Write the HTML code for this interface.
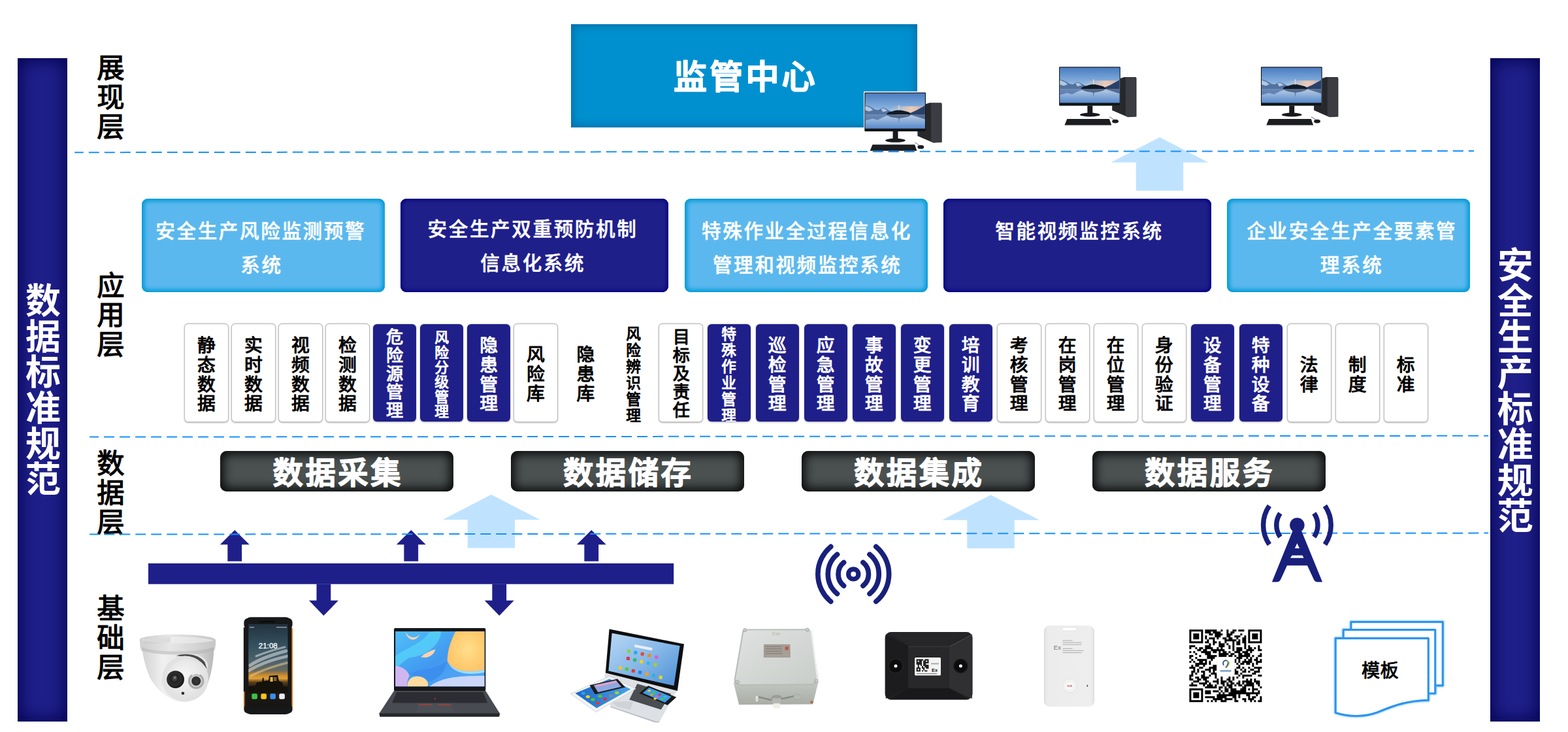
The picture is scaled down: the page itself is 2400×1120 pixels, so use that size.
<!DOCTYPE html><html lang="zh"><head><meta charset="utf-8"><title>安全生产信息化平台架构</title><style>
html,body{margin:0;padding:0;background:#fff}
body{width:2400px;height:1120px;position:relative;overflow:hidden;font-family:"Liberation Sans",sans-serif}
div{position:absolute;box-sizing:border-box}
.bar{background:#1f1f8a;box-shadow:inset 0 0 28px 2px #00004c}
.top{background:#0090cf;box-shadow:inset 0 0 14px 2px #006ba3}
.bl{background:#5bb8ee;border-radius:9px;box-shadow:inset 0 0 6px 4px #009ad6}
.bd{background:#1f1f8a;border-radius:9px;box-shadow:inset 0 0 5px 3px #050580}
.sw{background:#fff;border:1px solid #bcbcbc;border-radius:6px;box-shadow:0 .6px 2.2px rgba(0,0,0,.3);box-sizing:content-box}
.sd{background:#1f1f8a;border-radius:6px;box-shadow:0 .5px 2.5px rgba(0,0,0,.35)}
.db{background:#4b5151;border-radius:10px;box-shadow:inset 0 0 16px 5px #080808}
.t{color:transparent;text-align:center;overflow:hidden}
svg{position:absolute;left:0;top:0}
svg .cj{font-family:"Liberation Sans","Noto Sans CJK SC",sans-serif}
</style></head><body>
<div class="bar" style="left:27px;top:89px;width:76px;height:1015px;"></div>
<div class="bar" style="left:2281px;top:89px;width:76px;height:1015px;"></div>
<div class="top" style="left:874px;top:37px;width:530px;height:157.5px;"></div>
<div class="bl" style="left:217px;top:303.75px;width:372px;height:143.25px;"></div>
<div class="bd" style="left:613px;top:303.75px;width:410px;height:143.25px;"></div>
<div class="bl" style="left:1048px;top:303.75px;width:372px;height:143.25px;"></div>
<div class="bd" style="left:1444px;top:303.75px;width:410px;height:143.25px;"></div>
<div class="bl" style="left:1878px;top:303.75px;width:372px;height:143.25px;"></div>
<div class="sw" style="left:281.75px;top:495px;width:66.25px;height:148.75px;"></div>
<div class="sw" style="left:353.75px;top:495px;width:66.25px;height:148.75px;"></div>
<div class="sw" style="left:425.75px;top:495px;width:66.25px;height:148.75px;"></div>
<div class="sw" style="left:497.75px;top:495px;width:66.25px;height:148.75px;"></div>
<div class="sd" style="left:571.25px;top:496px;width:65.5px;height:149px;"></div>
<div class="sd" style="left:643.25px;top:496px;width:65.5px;height:149px;"></div>
<div class="sd" style="left:715.25px;top:496px;width:65.5px;height:149px;"></div>
<div class="sw" style="left:785.75px;top:495px;width:66.25px;height:148.75px;"></div>
<div class="sw" style="left:1007.75px;top:495px;width:66.25px;height:148.75px;"></div>
<div class="sd" style="left:1083.25px;top:496px;width:65.5px;height:149px;"></div>
<div class="sd" style="left:1157.25px;top:496px;width:65.5px;height:149px;"></div>
<div class="sd" style="left:1231.25px;top:496px;width:65.5px;height:149px;"></div>
<div class="sd" style="left:1305.25px;top:496px;width:65.5px;height:149px;"></div>
<div class="sd" style="left:1379.25px;top:496px;width:65.5px;height:149px;"></div>
<div class="sd" style="left:1453.25px;top:496px;width:65.5px;height:149px;"></div>
<div class="sw" style="left:1526px;top:495px;width:66.25px;height:148.75px;"></div>
<div class="sw" style="left:1600px;top:495px;width:66.25px;height:148.75px;"></div>
<div class="sw" style="left:1674px;top:495px;width:66.25px;height:148.75px;"></div>
<div class="sw" style="left:1748px;top:495px;width:66.25px;height:148.75px;"></div>
<div class="sd" style="left:1823.25px;top:496px;width:65.5px;height:149px;"></div>
<div class="sd" style="left:1897.25px;top:496px;width:65.5px;height:149px;"></div>
<div class="sw" style="left:1970px;top:495px;width:66.25px;height:148.75px;"></div>
<div class="sw" style="left:2044px;top:495px;width:66.25px;height:148.75px;"></div>
<div class="sw" style="left:2118px;top:495px;width:66.25px;height:148.75px;"></div>
<div class="db" style="left:336.75px;top:690px;width:357px;height:62px;"></div>
<div class="db" style="left:781.9px;top:690px;width:357px;height:62px;"></div>
<div class="db" style="left:1227px;top:690px;width:357px;height:62px;"></div>
<div class="db" style="left:1672px;top:690px;width:357px;height:62px;"></div>
<svg width="2400" height="1120" viewBox="0 0 2400 1120"><defs>
<linearGradient id="sky" x1="0" y1="0" x2="0" y2="1"><stop offset="0" stop-color="#4a7cc0"/><stop offset=".4" stop-color="#83aedd"/><stop offset=".61" stop-color="#c3d8ee"/><stop offset=".63" stop-color="#b4c9e2"/><stop offset="1" stop-color="#5689cc"/></linearGradient>
<linearGradient id="glow" x1="0" y1="0" x2="1" y2="0"><stop offset="0" stop-color="#f6cdb2" stop-opacity="0"/><stop offset=".6" stop-color="#f6cdb2" stop-opacity=".9"/><stop offset="1" stop-color="#f0b89a" stop-opacity=".6"/></linearGradient>
<g id="pc">
<path d="M93.6 17.6 L99.5 15.7 H116.6 Q118.4 15.7 118.4 17.6 V76.2 L105.5 77 L81.1 66.4 V59 H93.6Z" fill="#26282c"/>
<path d="M101.7 16.5 H117.4 V76 L105.5 76.6 L101.7 75Z" fill="#3b3d42"/>
<rect x="0" y="0" width="93.7" height="59.5" rx="1" fill="#121416"/>
<rect x="1.1" y="1.1" width="91.5" height="54" fill="url(#sky)"/>
<rect x="40" y="21" width="52.6" height="13" fill="url(#glow)"/>
<path d="M1.1 19.5 L6 20.5 L11 23 L16 26 L21 27 L26 24 L30 23.5 L35 26 L41 29.5 L48 32 L48 34 H1.1Z" fill="#52739f"/>
<path d="M3 21 L9 23.5 L13 27 L7 29 L1.1 27 V21Z M25 25 L30 24.5 L35 28 L28 30Z" fill="#c4d6ea" opacity=".85"/>
<path d="M92.6 20 L86 23.5 L79 27.5 L71 31 L66 33 L66 34 H92.6Z" fill="#27416b"/>
<path d="M33.5 33.6 Q35 29.5 42 29 L47 27.5 L51 26.8 L54 26.8 L60 28 L66 29.5 Q70.5 31 71 33.6Z" fill="#111b28"/><rect x="51.9" y="19.2" width="1.3" height="8" fill="#d5dde6"/>
<path d="M33.5 33.8 Q38 38 47 38.5 L52 39.5 L52.5 47 L53.3 39.5 L62 38 Q69.5 36.5 71 33.8Z" fill="#2b4468" opacity=".7"/>
<path d="M1.1 34 H40 L30 37 L20 42 L12 40 L1.1 43Z" fill="#47699f" opacity=".7"/>
<path d="M92.6 34 H70 L80 37 L92.6 41Z" fill="#2c466e" opacity=".7"/>
<rect x="43.3" y="59.4" width="7.9" height="13" fill="#17191c"/>
<ellipse cx="47.2" cy="73.2" rx="15.4" ry="3" fill="#17191c"/>
<path d="M12.2 79.6 H76.8 L80.2 89.2 H8.3Z" fill="#1b1d20"/>
<ellipse cx="86" cy="83.3" rx="5" ry="2.9" fill="#1b1d20"/>
<path d="M84 81 Q80 78 77 76.5" stroke="#222" stroke-width=".7" fill="none"/>
</g>
<linearGradient id="camb" x1="0" y1="0" x2="1" y2="0"><stop offset="0" stop-color="#d2d2d2"/><stop offset=".3" stop-color="#f0f0f0"/><stop offset=".7" stop-color="#e2e2e2"/><stop offset="1" stop-color="#b8b8b8"/></linearGradient>
<linearGradient id="camr" x1="0" y1="0" x2="1" y2="0"><stop offset="0" stop-color="#cfcfcf"/><stop offset=".4" stop-color="#e6e6e6"/><stop offset="1" stop-color="#c6c6c6"/></linearGradient>
<radialGradient id="camf" cx=".45" cy=".4" r=".7"><stop offset="0" stop-color="#f7f7f7"/><stop offset="1" stop-color="#dcdcdc"/></radialGradient>
<radialGradient id="lens1" cx=".45" cy=".45" r=".6"><stop offset="0" stop-color="#555"/><stop offset=".35" stop-color="#222"/><stop offset=".6" stop-color="#2e2e2e"/><stop offset="1" stop-color="#111"/></radialGradient>
<radialGradient id="lens2" cx=".5" cy=".5" r=".5"><stop offset="0" stop-color="#3a3a3a"/><stop offset=".5" stop-color="#2a2a2a"/><stop offset=".62" stop-color="#d8d8d8"/><stop offset=".85" stop-color="#a0a0a0"/><stop offset="1" stop-color="#cfcfcf"/></radialGradient>

<linearGradient id="phs" x1="0" y1="0" x2="0" y2="1"><stop offset="0" stop-color="#22323e"/><stop offset=".25" stop-color="#34505f"/><stop offset=".45" stop-color="#4d626c"/><stop offset=".56" stop-color="#6a6a5c"/><stop offset=".615" stop-color="#c98a2c"/><stop offset=".655" stop-color="#e2a238"/><stop offset=".70" stop-color="#5a401c"/><stop offset=".76" stop-color="#221c12"/><stop offset="1" stop-color="#151514"/></linearGradient>
<clipPath id="phc"><rect x="380.3" y="955" width="60.2" height="126.8"/></clipPath>

<linearGradient id="lpb" x1="0" y1="0" x2="1" y2="1"><stop offset="0" stop-color="#2fb4f6"/><stop offset=".5" stop-color="#1e86ee"/><stop offset="1" stop-color="#3a9df5"/></linearGradient>
<radialGradient id="lpo" cx=".55" cy=".45" r=".7"><stop offset="0" stop-color="#ffd978"/><stop offset=".7" stop-color="#ffbe4e"/><stop offset="1" stop-color="#f9b26a"/></radialGradient>
<clipPath id="lpc"><rect x="605.1" y="966.1" width="136.6" height="84.4"/></clipPath>

<linearGradient id="cgs" x1="0" y1="0" x2="1" y2="1"><stop offset="0" stop-color="#b9d8f4"/><stop offset=".5" stop-color="#86b8e8"/><stop offset="1" stop-color="#4d8fd6"/></linearGradient>
<linearGradient id="cgt" x1="0" y1="0" x2="1" y2="0"><stop offset="0" stop-color="#1d66c4"/><stop offset="1" stop-color="#49a3ea"/></linearGradient>

<linearGradient id="jbt" x1="0" y1="0" x2="1" y2="1"><stop offset="0" stop-color="#dfe2e0"/><stop offset="1" stop-color="#c9cdca"/></linearGradient>
<linearGradient id="jbf" x1="0" y1="0" x2="0" y2="1"><stop offset="0" stop-color="#c3c7c2"/><stop offset="1" stop-color="#a9ada6"/></linearGradient>

<radialGradient id="hol" cx=".5" cy=".5" r=".5"><stop offset="0" stop-color="#0a0a0a"/><stop offset=".8" stop-color="#0d0d0e"/><stop offset="1" stop-color="#2a2a2c"/></radialGradient>

<linearGradient id="cdg" x1="0" y1="0" x2="1" y2="0"><stop offset="0" stop-color="#dadada"/><stop offset=".08" stop-color="#ececec"/><stop offset=".92" stop-color="#efefef"/><stop offset="1" stop-color="#dcdcdc"/></linearGradient>
<clipPath id="cl1"><rect x="1083" y="496" width="66" height="149"/></clipPath></defs>
<g class="cj" fill="#fff" font-size="54" font-weight="bold"><text x="38.9 38.9 38.9 38.9 38.9 38.9" y="479.87 534.57 589.27 643.97 698.67 753.37">数据标准规范</text></g>
<g class="cj" fill="#fff" font-size="55" font-weight="bold"><text x="2291.8 2291.8 2291.8 2291.8 2291.8 2291.8 2291.8 2291.8" y="425.15 480.05 534.95 589.85 644.75 699.65 754.55 809.45">安全生产标准规范</text></g>
<g class="cj" fill="#000" stroke="#000" stroke-width="1.25" stroke-linejoin="round" font-size="42.4"><text x="148.2 148.2 148.2" y="118.91 164.01 209.11">展现层</text></g>
<g class="cj" fill="#000" stroke="#000" stroke-width="1.25" stroke-linejoin="round" font-size="42.4"><text x="148.2 148.2 148.2" y="452.01 497.11 542.21">应用层</text></g>
<g class="cj" fill="#000" stroke="#000" stroke-width="1.25" stroke-linejoin="round" font-size="42.4"><text x="148.2 148.2 148.2" y="724.01 769.11 814.21">数据层</text></g>
<g class="cj" fill="#000" stroke="#000" stroke-width="1.25" stroke-linejoin="round" font-size="42.4"><text x="148.2 148.2 148.2" y="946.21 991.31 1036.41">基础层</text></g>
<g class="cj" fill="#fff" stroke="#fff" stroke-width="2" stroke-linejoin="round" font-size="51.5" font-weight="500"><text x="1030.75" y="135.87" letter-spacing="3.7">监管中心</text></g>
<g class="cj" fill="#fff" stroke="#fff" stroke-width="0.5" stroke-linejoin="round" font-size="29.6" font-weight="500" letter-spacing="2.6"><text x="238.25" y="364.25">安全生产风险监测预警</text></g>
<g class="cj" fill="#fff" stroke="#fff" stroke-width="0.5" stroke-linejoin="round" font-size="29.6" font-weight="500" letter-spacing="2.6"><text x="368.25" y="416.25">系统</text></g>
<g class="cj" fill="#fff" stroke="#fff" stroke-width="0.5" stroke-linejoin="round" font-size="29.6" font-weight="500" letter-spacing="2.6"><text x="654.5" y="361.25">安全生产双重预防机制</text></g>
<g class="cj" fill="#fff" stroke="#fff" stroke-width="0.5" stroke-linejoin="round" font-size="29.6" font-weight="500" letter-spacing="2.6"><text x="735.25" y="413.25">信息化系统</text></g>
<g class="cj" fill="#fff" stroke="#fff" stroke-width="0.5" stroke-linejoin="round" font-size="29.6" font-weight="500" letter-spacing="2.6"><text x="1074" y="364.25">特殊作业全过程信息化</text></g>
<g class="cj" fill="#fff" stroke="#fff" stroke-width="0.5" stroke-linejoin="round" font-size="29.6" font-weight="500" letter-spacing="2.6"><text x="1090.75" y="416.25">管理和视频监控系统</text></g>
<g class="cj" fill="#fff" stroke="#fff" stroke-width="0.5" stroke-linejoin="round" font-size="29.6" font-weight="500" letter-spacing="2.6"><text x="1523.25" y="364.25">智能视频监控系统</text></g>
<g class="cj" fill="#fff" stroke="#fff" stroke-width="0.5" stroke-linejoin="round" font-size="29.6" font-weight="500" letter-spacing="2.6"><text x="1908.25" y="364.25">企业安全生产全要素管</text></g>
<g class="cj" fill="#fff" stroke="#fff" stroke-width="0.5" stroke-linejoin="round" font-size="29.6" font-weight="500" letter-spacing="2.6"><text x="2020.75" y="416.25">理系统</text></g>
<g class="cj" fill="#000" stroke="#000" stroke-width="1.1" stroke-linejoin="round" font-size="27.8"><text x="302 302 302 302" y="537.96 567.76 597.56 627.36">静态数据</text></g>
<g class="cj" fill="#000" stroke="#000" stroke-width="1.1" stroke-linejoin="round" font-size="27.8"><text x="374 374 374 374" y="537.96 567.76 597.56 627.36">实时数据</text></g>
<g class="cj" fill="#000" stroke="#000" stroke-width="1.1" stroke-linejoin="round" font-size="27.8"><text x="446 446 446 446" y="537.96 567.76 597.56 627.36">视频数据</text></g>
<g class="cj" fill="#000" stroke="#000" stroke-width="1.1" stroke-linejoin="round" font-size="27.8"><text x="518 518 518 518" y="537.96 567.76 597.56 627.36">检测数据</text></g>
<g class="cj" fill="#fff" stroke="#fff" stroke-width="1.1" stroke-linejoin="round" font-size="26.2"><text x="591.05 591.05 591.05 591.05 591.05" y="525.46 553.46 581.46 609.46 637.46">危险源管理</text></g>
<g class="cj" fill="#fff" stroke="#fff" stroke-width="1.1" stroke-linejoin="round" font-size="21.7"><text x="665.3 665.3 665.3 665.3 665.3 665.3" y="524.45 547.05 569.65 592.25 614.85 637.45">风险分级管理</text></g>
<g class="cj" fill="#fff" stroke="#fff" stroke-width="1.1" stroke-linejoin="round" font-size="27.8"><text x="734.25 734.25 734.25 734.25" y="537.96 567.76 597.56 627.36">隐患管理</text></g>
<g class="cj" fill="#000" stroke="#000" stroke-width="1.1" stroke-linejoin="round" font-size="27.8"><text x="806 806 806" y="552.46 582.26 612.06">风险库</text></g>
<g class="cj" fill="#000" stroke="#000" stroke-width="1.1" stroke-linejoin="round" font-size="27.8"><text x="882.5 882.5 882.5" y="552.46 582.26 612.06">隐患库</text></g>
<g class="cj" fill="#000" stroke="#000" stroke-width="1.1" stroke-linejoin="round" font-size="22.6"><text x="958.2 958.2 958.2 958.2 958.2 958.2" y="519.24 544.14 569.04 593.94 618.84 643.74">风险辨识管理</text></g>
<g class="cj" fill="#000" stroke="#000" stroke-width="1.1" stroke-linejoin="round" font-size="26.2"><text x="1029.8 1029.8 1029.8 1029.8 1029.8" y="525.46 553.46 581.46 609.46 637.46">目标及责任</text></g>
<g class="cj" fill="#fff" stroke="#fff" stroke-width="1.1" stroke-linejoin="round" font-size="22.6" clip-path="url(#cl1)"><text x="1104.35 1104.35 1104.35 1104.35 1104.35 1104.35" y="519.24 544.14 569.04 593.94 618.84 643.74">特殊作业管理</text></g>
<g class="cj" fill="#fff" stroke="#fff" stroke-width="1.1" stroke-linejoin="round" font-size="27.8"><text x="1175.75 1175.75 1175.75 1175.75" y="537.96 567.76 597.56 627.36">巡检管理</text></g>
<g class="cj" fill="#fff" stroke="#fff" stroke-width="1.1" stroke-linejoin="round" font-size="27.8"><text x="1249.75 1249.75 1249.75 1249.75" y="537.96 567.76 597.56 627.36">应急管理</text></g>
<g class="cj" fill="#fff" stroke="#fff" stroke-width="1.1" stroke-linejoin="round" font-size="27.8"><text x="1323.75 1323.75 1323.75 1323.75" y="537.96 567.76 597.56 627.36">事故管理</text></g>
<g class="cj" fill="#fff" stroke="#fff" stroke-width="1.1" stroke-linejoin="round" font-size="27.8"><text x="1397.75 1397.75 1397.75 1397.75" y="537.96 567.76 597.56 627.36">变更管理</text></g>
<g class="cj" fill="#fff" stroke="#fff" stroke-width="1.1" stroke-linejoin="round" font-size="27.8"><text x="1471.75 1471.75 1471.75 1471.75" y="537.96 567.76 597.56 627.36">培训教育</text></g>
<g class="cj" fill="#000" stroke="#000" stroke-width="1.1" stroke-linejoin="round" font-size="27.8"><text x="1545.75 1545.75 1545.75 1545.75" y="537.96 567.76 597.56 627.36">考核管理</text></g>
<g class="cj" fill="#000" stroke="#000" stroke-width="1.1" stroke-linejoin="round" font-size="27.8"><text x="1619.75 1619.75 1619.75 1619.75" y="537.96 567.76 597.56 627.36">在岗管理</text></g>
<g class="cj" fill="#000" stroke="#000" stroke-width="1.1" stroke-linejoin="round" font-size="27.8"><text x="1693.75 1693.75 1693.75 1693.75" y="537.96 567.76 597.56 627.36">在位管理</text></g>
<g class="cj" fill="#000" stroke="#000" stroke-width="1.1" stroke-linejoin="round" font-size="27.8"><text x="1767.75 1767.75 1767.75 1767.75" y="537.96 567.76 597.56 627.36">身份验证</text></g>
<g class="cj" fill="#fff" stroke="#fff" stroke-width="1.1" stroke-linejoin="round" font-size="27.8"><text x="1841.75 1841.75 1841.75 1841.75" y="537.96 567.76 597.56 627.36">设备管理</text></g>
<g class="cj" fill="#fff" stroke="#fff" stroke-width="1.1" stroke-linejoin="round" font-size="27.8"><text x="1915.75 1915.75 1915.75 1915.75" y="537.96 567.76 597.56 627.36">特种设备</text></g>
<g class="cj" fill="#000" stroke="#000" stroke-width="1.1" stroke-linejoin="round" font-size="27.8"><text x="1989.75 1989.75" y="567.76 597.56">法律</text></g>
<g class="cj" fill="#000" stroke="#000" stroke-width="1.1" stroke-linejoin="round" font-size="27.8"><text x="2063.75 2063.75" y="567.76 597.56">制度</text></g>
<g class="cj" fill="#000" stroke="#000" stroke-width="1.1" stroke-linejoin="round" font-size="27.8"><text x="2137.75 2137.75" y="567.76 597.56">标准</text></g>
<g class="cj" fill="#fff" stroke="#fff" stroke-width="2" stroke-linejoin="round" font-size="46.4" font-weight="500" letter-spacing="3.5"><text x="417.5" y="739.63">数据采集</text></g>
<g class="cj" fill="#fff" stroke="#fff" stroke-width="2" stroke-linejoin="round" font-size="46.4" font-weight="500" letter-spacing="3.5"><text x="861.9" y="739.63">数据储存</text></g>
<g class="cj" fill="#fff" stroke="#fff" stroke-width="2" stroke-linejoin="round" font-size="46.4" font-weight="500" letter-spacing="3.5"><text x="1306.9" y="739.63">数据集成</text></g>
<g class="cj" fill="#fff" stroke="#fff" stroke-width="2" stroke-linejoin="round" font-size="46.4" font-weight="500" letter-spacing="3.5"><text x="1751.9" y="739.63">数据服务</text></g>
<path fill="#bfe3ff" d="M1775 210 l74.5 38.5 h-38.3 v43.2 h-72.4 v-43.2 h-38.3 z"/>
<path fill="#bfe3ff" d="M751.9 756.75 l74.5 38.5 h-38.3 v43.2 h-72.4 v-43.2 h-38.3 z"/>
<path fill="#bfe3ff" d="M1516.5 757.3 l74.5 38.5 h-38.3 v43.2 h-72.4 v-43.2 h-38.3 z"/>
<rect x="227" y="862" width="804.2" height="31.7" fill="#1f1f8a"/>
<path fill="#1f1f8a" d="M359.25 811 l22.5 22.25 h-11.6 v25.5 h-21.8 v-25.5 h-11.6 z"/>
<path fill="#1f1f8a" d="M629.25 811 l22.5 22.25 h-11.6 v25.5 h-21.8 v-25.5 h-11.6 z"/>
<path fill="#1f1f8a" d="M905.25 811 l22.5 22.25 h-11.6 v25.5 h-21.8 v-25.5 h-11.6 z"/>
<path fill="#1f1f8a" d="M495.4 942 l-22.5 -23.25 h11.6 v-25.2 h21.8 v25.2 h11.6 z"/>
<path fill="#1f1f8a" d="M764.25 942 l-22.5 -23.25 h11.6 v-25.2 h21.8 v25.2 h11.6 z"/>
<g stroke="#1590ff" stroke-width="2" stroke-dasharray="16 8" fill="none"><path d="M114.2 233.2 L2256 231" stroke-dashoffset="2.4"/><path d="M137.2 668.6 L2278 666.8" stroke-dashoffset="2.1"/><path d="M137.2 817.6 L2278 815.6" stroke-dashoffset="1.9"/></g>
<path d="M1321.01 860.5 A23.2 23.2 0 0 1 1321.01 896.3M1291.49 896.3 A23.2 23.2 0 0 1 1291.49 860.5M1331.06 848.31 A39 39 0 0 1 1331.06 908.49M1281.44 908.49 A39 39 0 0 1 1281.44 848.31M1340.85 836.42 A54.4 54.4 0 0 1 1340.85 920.38M1271.65 920.38 A54.4 54.4 0 0 1 1271.65 836.42" fill="none" stroke="#18207c" stroke-width="7.7" stroke-linecap="round"/>
<circle cx="1306.25" cy="878.4" r="7.6" fill="none" stroke="#18207c" stroke-width="7.2"/>
<path d="M2011.35 785.47 A31.6 31.6 0 0 1 2011.35 821.53M1959.45 821.53 A31.6 31.6 0 0 1 1959.45 785.47M2027.94 773.94 A51.8 51.8 0 0 1 2027.94 833.06M1942.86 833.06 A51.8 51.8 0 0 1 1942.86 773.94" fill="none" stroke="#18207c" stroke-width="7.5"/>
<circle cx="1985.4" cy="803.5" r="11.25" fill="#18207c"/>
<path fill="#18207c" fill-rule="evenodd" d="M1985.3 795.8 L1946.9 890.6 H1954 Q1958.6 890.6 1960.5 886 L1970 865.25 H2001 L2010.6 886 Q2012.5 890.6 2017 890.6 H2024.1 Z M1985.4 831.25 L1981.9 839 H1989 Z M1977.5 849.75 H1993.5 L1995.6 853.75 H1975 Z"/>
<rect x="1322.1" y="139.9" width="96" height="62" fill="#fff"/>
<use href="#pc" x="1323.3" y="141.6"/>
<use href="#pc" x="1621.1" y="102.3"/>
<use href="#pc" x="1930" y="102.3"/>
<g><path d="M216.5 988 C220 1012 226 1032 233 1043 C243 1058 258 1070 276 1073.5 C292 1076 310 1066 318 1046 C324 1030 327 1010 327.5 990 Z" fill="url(#camb)"/><path d="M213.9 978.5 C214 974.5 240 970.7 272 970.7 C304 970.7 330 974.5 330.2 979.5 L329.8 989 C318 994.5 296 996.6 272 996.6 C246 996.6 226 994 214.6 989.5 Z" fill="url(#camr)"/><path d="M216 979 C230 976 250 974.6 272 974.6 C296 974.6 316 976.5 328.5 980 C316 983 296 984.4 272 984.4 C248 984.4 228 982.6 216 979Z" fill="#f3f3f3" opacity=".55"/><path d="M214.6 989.5 C226 994 246 996.6 272 996.6 C296 996.6 318 994.5 329.8 989 L329 994.5 C316 1000 296 1001.8 272 1001.8 C248 1001.8 228 999.5 215.6 995 Z" fill="#b4b4b4" opacity=".55"/><path d="M222 976.5 v8.6M223.9 976.42 v8.6M225.8 976.34 v8.6M227.7 976.26 v8.6M229.6 976.18 v8.6M231.5 976.1 v8.6M233.4 976.02 v8.6M235.3 975.94 v8.6M237.2 975.86 v8.6M239.1 975.78 v8.6M241 975.7 v8.6M242.9 975.62 v8.6M244.8 975.54 v8.6M246.7 975.46 v8.6M248.6 975.38 v8.6M250.5 975.3 v8.6M252.4 975.22 v8.6M254.3 975.14 v8.6M256.2 975.06 v8.6M258.1 974.98 v8.6M260 974.9 v8.6" stroke="#c9c9c9" stroke-width=".8"/><path d="M247 1052 C246 1025 262 1003 287 1000.5 C303 999 315 1006 318.5 1017 L316 1030 C306 1010 292 1006 280 1008 C262 1011 251 1030 247 1052Z" fill="#e4e4e4"/><path d="M270 1003.5 C285 998.5 305 1001 313.6 1013.6 L317 1024 C308 1010 293 1004.5 270 1003.5Z" fill="#4a4a4a"/><ellipse cx="283.5" cy="1038.5" rx="35.5" ry="35" fill="#e2e2e2"/><ellipse cx="285.5" cy="1040.5" rx="31" ry="31.5" fill="url(#camf)"/><circle cx="268.6" cy="1039.6" r="13.4" fill="url(#lens1)"/><circle cx="267.8" cy="1036.5" r="2.2" fill="#9aa" opacity=".5"/><circle cx="300.2" cy="1042" r="12.6" fill="url(#lens2)"/><path d="M294 1033 a10 10 0 0 1 12 -1" stroke="#fff" stroke-width="2" fill="none" opacity=".8"/><circle cx="279.9" cy="1060.8" r="2.3" fill="#2a2a2a"/></g>
<g><rect x="372.9" y="960" width="75.2" height="124" rx="3" fill="#e58420"/><rect x="372.9" y="960" width="3.2" height="98" fill="#191919"/><rect x="374.6" y="944.3" width="71.8" height="148.6" rx="9" fill="#17181a"/><rect x="373.4" y="946" width="74.2" height="16" rx="6" fill="#17181a"/><rect x="373.4" y="1078" width="74.2" height="13.5" rx="6" fill="#17181a"/><rect x="380.3" y="955" width="60.2" height="126.8" fill="url(#phs)"/><g clip-path="url(#phc)"><g stroke="#dfe4e6" stroke-linecap="round" fill="none" opacity=".55"><path d="M383 1018 Q400 1006 438 996" stroke-width="5"/><path d="M381 1026 Q404 1012 440 1004" stroke-width="4.5"/><path d="M392 1004 Q412 996 436 990" stroke-width="3"/><path d="M384 1034 Q408 1022 440 1014" stroke-width="3.5" stroke="#e8c890"/></g><path d="M380.3 1050 L391 1049 L393 1044 L401 1043 L402 1037 L403.5 1037 L404 1042 L411 1041 L412 1034 L425 1033 L427 1042 L432 1044 L434 1050 L440.5 1051 V1060 H380.3Z" fill="#15120c"/><path d="M413.5 1036 h4.2 v7 h-4.2z" fill="#e9b440"/><path d="M419 1036 h4.5 v6 h-4.5z" fill="#7a6030"/></g><text x="410.3" y="991.9" font-family="Liberation Sans, sans-serif" font-size="11.6" fill="#fff" text-anchor="middle" stroke="#fff" stroke-width=".3">21:08</text><rect x="382" y="959" width="7" height="1.6" fill="#aab" opacity=".8"/><rect x="423" y="959" width="16" height="1.6" fill="#aab" opacity=".8"/><rect x="385.3" y="1061.2" width="8.6" height="8.6" rx="2.2" fill="#3cc24a"/><rect x="399.4" y="1061.2" width="8.6" height="8.6" rx="2.2" fill="#f2c521"/><rect x="413.4" y="1061.2" width="8.6" height="8.6" rx="2.2" fill="#3b8cf0"/><rect x="427.3" y="1061.2" width="8.6" height="8.6" rx="2.2" fill="#ececf4"/><rect x="397" y="950" width="24" height="2.6" rx="1.3" fill="#0c0c0c"/></g>
<g><rect x="603" y="961" width="140.3" height="96.2" rx="2" fill="#15171a"/><g clip-path="url(#lpc)"><rect x="605.1" y="966.1" width="136.6" height="84.4" fill="url(#lpb)"/><path d="M605.09 1003.76 C623.76 990.09 645.01 985.54 657.15 967.32 L666.26 966.11 675.37 966.11 C672.33 990.09 651.08 1003.76 625.28 1006.79 C617.69 1011.35 610.09 1018.94 605.09 1025.01Z" fill="#36c6f8" opacity=".85"/><path d="M626.79 1031.08 C645.01 1021.97 666.26 1025.01 684.48 1011.35 C681.44 1025.01 675.37 1037.15 657.15 1043.23 C645.01 1037.15 635.9 1034.12 626.79 1031.08Z" fill="#1878ea" opacity=".9"/><path d="M697.38 966.11 C690.55 979.47 684.48 994.65 684.78 1011.35 C690.55 1025.01 711.8 1031.08 741.71 1025.01 L741.71 966.11Z" fill="url(#lpo)"/><path d="M684.78 1011.35 C690.55 1028.05 711.8 1034.88 741.71 1028.8 L741.71 1025.01 C711.8 1031.08 690.55 1025.01 684.78 1011.35Z" fill="#8fe0ff" opacity=".9"/><path d="M620.72 967.32 C623.76 979.47 635.9 984.02 642.73 970.36 C635.9 977.95 626.79 976.43 620.72 967.32Z" fill="#ffc9a0"/><path d="M644.25 1005.28 C649.56 999.2 658.67 996.17 666.26 993.13 C664.74 1002.24 654.12 1008.31 644.25 1005.28Z" fill="#ffc9a0"/><path d="M605.09 1018.94 C614.65 1018.94 623.76 1025.01 626.79 1034.12 C623.76 1040.19 622.24 1046.26 623.76 1050.51 L605.09 1050.51Z" fill="#c8a8ee"/><path d="M623.76 1050.51 C622.24 1038.67 632.87 1032.6 645.01 1035.64 C654.12 1038.67 657.15 1046.26 654.12 1050.51Z" fill="#ffd58c"/><path d="M657.15 1050.51 C675.37 1037.15 696.62 1034.12 741.71 1034.12 L741.71 1050.51Z" fill="#cfd6fa" opacity=".9"/><rect x="605.1" y="966.1" width="136.6" height="84.4" fill="#fff" opacity=".16"/></g><path d="M603 1057 H743.3 L765 1091.5 L764 1096.4 H581.5 L580.5 1091.5Z" fill="#484b51"/><path d="M607 1059 H739.5 L746.2 1075.6 H600.2Z" fill="#2b2d32"/><path d="M640.2 1076.4 H692 L694.5 1089.8 H637.6Z" fill="#4c4f56"/><path d="M641 1077.4 h20 v1.3 h-20z M670.5 1077.4 h20 v1.3 h-20z" fill="#c0392b"/><circle cx="666" cy="1069" r="1.1" fill="#d33"/><path d="M580.5 1091.5 H765 L764 1096.4 H581.5Z" fill="#25272b"/></g>
<g><polygon points="926.79,1029.56 1036.85,1056.89 1033.06,1061.44 1009.53,1103.95 1002.69,1103.19 934.38,1080.42 925.28,1034.12" fill="#dde0e4"/><polygon points="934.38,1080.42 1002.69,1103.19 1009.53,1103.95 1008.77,1105.46 1001.94,1105.16 934.08,1081.94" fill="#b8bcc2"/><polygon points="975.37,1046.26 1026.98,1061.44 1011.8,1085.73 963.23,1070.55" fill="#4a4d52"/><polygon points="935.9,1073.59 969.3,1073.59 964.74,1085.73 945.01,1081.18" fill="#cfd3d8"/><polygon points="932.56,962.47 1047.02,985.54 1036.85,1056.89 926.79,1029.56" fill="#0d0e10"/><polygon points="936.66,968.84 1040.65,988.27 1031.54,1049.3 931.35,1026.53" fill="url(#cgs)"/><rect x="959.87" y="993.87" width="5.2" height="5.2" rx="1.2" fill="#8fd037" transform="rotate(11 962.47 996.47)"/><rect x="970.19" y="995.84" width="5.2" height="5.2" rx="1.2" fill="#28a8e8" transform="rotate(11 972.79 998.44)"/><rect x="980.66" y="998.12" width="5.2" height="5.2" rx="1.2" fill="#e84a30" transform="rotate(11 983.26 1000.72)"/><rect x="991.29" y="1000.4" width="5.2" height="5.2" rx="1.2" fill="#f08a20" transform="rotate(11 993.89 1003)"/><rect x="1002.07" y="1002.98" width="5.2" height="5.2" rx="1.2" fill="#e25bd0" transform="rotate(11 1004.67 1005.58)"/><rect x="958.8" y="1004.95" width="5.2" height="5.2" rx="1.2" fill="#e0304a" transform="rotate(11 961.4 1007.55)"/><rect x="968.97" y="1007.23" width="5.2" height="5.2" rx="1.2" fill="#30b86a" transform="rotate(11 971.57 1009.83)"/><rect x="979.15" y="1009.81" width="5.2" height="5.2" rx="1.2" fill="#f2d020" transform="rotate(11 981.75 1012.41)"/><rect x="989.77" y="1012.09" width="5.2" height="5.2" rx="1.2" fill="#30b8e0" transform="rotate(11 992.37 1014.69)"/><rect x="1000.4" y="1014.52" width="5.2" height="5.2" rx="1.2" fill="#a0d030" transform="rotate(11 1003 1017.12)"/><rect x="946.96" y="1019.37" width="5.2" height="5.2" rx="1.2" fill="#f2c820" transform="rotate(11 949.56 1021.97)"/><rect x="956.83" y="1021.2" width="5.2" height="5.2" rx="1.2" fill="#58c830" transform="rotate(11 959.43 1023.8)"/><rect x="966.7" y="1023.93" width="5.2" height="5.2" rx="1.2" fill="#e03838" transform="rotate(11 969.3 1026.53)"/><rect x="977.02" y="1026.2" width="5.2" height="5.2" rx="1.2" fill="#3080e0" transform="rotate(11 979.62 1028.8)"/><rect x="987.65" y="1028.79" width="5.2" height="5.2" rx="1.2" fill="#f0a020" transform="rotate(11 990.25 1031.39)"/><rect x="997.97" y="1031.21" width="5.2" height="5.2" rx="1.2" fill="#30b0e0" transform="rotate(11 1000.57 1033.81)"/><rect x="1008.6" y="1033.79" width="5.2" height="5.2" rx="1.2" fill="#d8d830" transform="rotate(11 1011.2 1036.39)"/><polygon points="971.27,986 998.44,991.31 998.14,995.56 970.82,990.09" fill="#e8eef6"/><polygon points="873.36,1061.44 932.87,1034.42 973.09,1053.85 912.37,1089.53" fill="#f2f3f5" stroke="#c9ccd0" stroke-width=".8"/><polygon points="880.49,1060.68 932.87,1038.67 965.5,1054.61 913.13,1083.45" fill="url(#cgt)"/><ellipse cx="892.64" cy="1060.68" rx="3.2" ry="2.2" fill="#30a0e8"/><ellipse cx="899.77" cy="1066" rx="3.2" ry="2.2" fill="#f2d020"/><ellipse cx="907.36" cy="1070.55" rx="3.2" ry="2.2" fill="#58c830"/><ellipse cx="914.95" cy="1075.86" rx="3.2" ry="2.2" fill="#e03838"/><ellipse cx="918.44" cy="1065.24" rx="3.2" ry="2.2" fill="#58c830"/><ellipse cx="926.03" cy="1069.79" rx="3.2" ry="2.2" fill="#e0304a"/><ellipse cx="935.14" cy="1064.48" rx="3.2" ry="2.2" fill="#888"/><ellipse cx="944.25" cy="1059.92" rx="3.2" ry="2.2" fill="#a8d030"/><polygon points="902.5,1048.54 945.01,1038.67 957.15,1051.57 910.85,1062.2" fill="#1a1b1e"/><polygon points="908.58,1048.54 942.73,1040.95 951.08,1050.82 915.41,1059.17" fill="#8fa8e0"/><polygon points="911.61,1048.08 942.73,1041.4 945.01,1043.98 913.13,1051.12" fill="#e0a0c8"/><polygon points="978.41,1060.68 992.07,1049.3 1035.33,1066.76 1021.67,1078.9" fill="#17181b"/><polygon points="983.72,1060.23 993.59,1052.03 1027.74,1066 1017.87,1075.1" fill="#3f9be6"/><ellipse cx="993.59" cy="1056.89" rx="2.4" ry="1.7" fill="#f2d020"/><ellipse cx="1001.18" cy="1059.92" rx="2.4" ry="1.7" fill="#58c830"/><ellipse cx="1009.53" cy="1062.96" rx="2.4" ry="1.7" fill="#e03838"/><ellipse cx="1017.87" cy="1066.3" rx="2.4" ry="1.7" fill="#30c0e0"/><ellipse cx="997.38" cy="1062.96" rx="2.4" ry="1.7" fill="#f0a020"/><ellipse cx="1005.73" cy="1066" rx="2.4" ry="1.7" fill="#e25bd0"/><ellipse cx="1013.32" cy="1069.34" rx="2.4" ry="1.7" fill="#58c830"/><ellipse cx="1002.69" cy="1069.03" rx="2.4" ry="1.7" fill="#f2d020"/></g>
<g><polygon points="1122.77,1044.74 1252.56,1043.23 1244.21,1077.38 1131.12,1078.14" fill="url(#jbf)"/><polygon points="1136.43,965.05 1145.54,962.47 1233.59,962.16 1241.94,965.05 1252.56,1038.67 1251.04,1044.74 1242.69,1048.54 1132.64,1049.3 1124.29,1045.5 1123.53,1040.19" fill="#b9bdb8"/><polygon points="1138.71,964.29 1240.42,964.29 1250.28,1039.43 1243.45,1046.26 1132.64,1047.02 1125.5,1040.95" fill="url(#jbt)"/><polygon points="1240.42,964.29 1243.45,965.81 1252.26,1040.19 1250.28,1039.43" fill="#eef0ee"/><polygon points="1169.53,986.3 1208.99,986.3 1209.3,1005.58 1169.22,1005.58" fill="#a59f98" stroke="#807a72" stroke-width=".5"/><polygon points="1171.35,988.88 1197.15,988.88 1197.15,989.79 1171.35,989.79" fill="#7a746c"/><polygon points="1171.35,992.37 1197.15,992.37 1197.15,993.28 1171.35,993.28" fill="#7a746c"/><polygon points="1171.35,995.86 1197.15,995.86 1197.15,996.77 1171.35,996.77" fill="#7a746c"/><polygon points="1171.35,999.51 1197.15,999.51 1197.15,1000.42 1171.35,1000.42" fill="#7a746c"/><polygon points="1201.71,989.34 1207.02,989.34 1207.02,994.65 1201.71,994.65" fill="#c0574a"/><circle cx="1140.23" cy="963.98" r="2.6" fill="#c8ccc8" stroke="#8a8e88" stroke-width=".6"/><circle cx="1235.86" cy="963.53" r="2.6" fill="#c8ccc8" stroke="#8a8e88" stroke-width=".6"/><circle cx="1128.84" cy="1043.23" r="2.6" fill="#c8ccc8" stroke="#8a8e88" stroke-width=".6"/><circle cx="1249.53" cy="1042.01" r="2.6" fill="#c8ccc8" stroke="#8a8e88" stroke-width=".6"/><text x="1188.05" y="972.18" font-family="Liberation Sans, sans-serif" font-size="7" fill="#b2b6b2" text-anchor="middle">Exe</text><ellipse cx="1188.8" cy="1068.27" rx="8.5" ry="5" fill="#9a9e98"/><rect x="1182.3" y="1068.27" width="13" height="9" fill="#b5b8b2"/><rect x="1183.3" y="1076.27" width="11" height="7.5" rx="2" fill="#eeeeea"/><path d="M1160.8 1066.27 L1180.8 1071.27 M1196.8 1069.27 L1214.8 1065.27" stroke="#888c86" stroke-width="2.4"/><rect x="1155.84" y="1064.03" width="5.2" height="10" rx="1.5" fill="#dcdcd6" stroke="#8a8a84" stroke-width=".5"/><ellipse cx="1220.68" cy="1066.76" rx="6" ry="4.2" fill="#b4bab2" stroke="#9aa098" stroke-width=".6"/><circle cx="1242.39" cy="1074.35" r="2.2" fill="#b06a4a"/></g>
<g><rect x="1354.6" y="967" width="134" height="103.5" rx="9" fill="#222224"/><polygon points="1355.81,970.36 1389.96,988.27 1389.96,1053.09 1355.81,1069.03" fill="#1c1c1e"/><polygon points="1487.87,970.36 1452.96,988.27 1452.96,1053.09 1487.87,1069.03" fill="#303033"/><polygon points="1360.36,967.63 1483.32,967.63 1452.96,988.27 1389.96,988.27" fill="#262629"/><polygon points="1360.36,1070.25 1483.32,1070.25 1452.96,1053.09 1389.96,1053.09" fill="#19191b"/><rect x="1390" y="988.3" width="63" height="64.8" rx="3" fill="#28282b"/><path d="M1390.72 989.34 L1451.44 989.34" stroke="#3a3a3e" stroke-width="1.2"/><path d="M1453.26 989.34 L1487.12 971.12" stroke="#4a4a4e" stroke-width="1"/><circle cx="1371" cy="1019" r="11.6" fill="url(#hol)"/><circle cx="1371" cy="1019" r="2.5" fill="#fff"/><circle cx="1470.4" cy="1019" r="11.6" fill="url(#hol)"/><circle cx="1470.4" cy="1019" r="2.5" fill="#fff"/><rect x="1400.1" y="1006" width="39.9" height="27.4" rx="1.5" fill="#f4f4f4"/><path d="M1402.6 1008.6h2.1v2.1h-2.1zM1404.7 1008.6h2.1v2.1h-2.1zM1406.8 1008.6h2.1v2.1h-2.1zM1408.9 1008.6h2.1v2.1h-2.1zM1411 1008.6h2.1v2.1h-2.1zM1415.2 1008.6h2.1v2.1h-2.1zM1417.3 1008.6h2.1v2.1h-2.1zM1419.4 1008.6h2.1v2.1h-2.1zM1402.6 1010.7h2.1v2.1h-2.1zM1404.7 1010.7h2.1v2.1h-2.1zM1406.8 1010.7h2.1v2.1h-2.1zM1408.9 1010.7h2.1v2.1h-2.1zM1413.1 1010.7h2.1v2.1h-2.1zM1415.2 1010.7h2.1v2.1h-2.1zM1417.3 1010.7h2.1v2.1h-2.1zM1419.4 1010.7h2.1v2.1h-2.1zM1402.6 1012.8h2.1v2.1h-2.1zM1404.7 1012.8h2.1v2.1h-2.1zM1406.8 1012.8h2.1v2.1h-2.1zM1408.9 1012.8h2.1v2.1h-2.1zM1413.1 1012.8h2.1v2.1h-2.1zM1415.2 1012.8h2.1v2.1h-2.1zM1417.3 1012.8h2.1v2.1h-2.1zM1419.4 1012.8h2.1v2.1h-2.1zM1402.6 1014.9h2.1v2.1h-2.1zM1404.7 1014.9h2.1v2.1h-2.1zM1406.8 1014.9h2.1v2.1h-2.1zM1408.9 1014.9h2.1v2.1h-2.1zM1413.1 1014.9h2.1v2.1h-2.1zM1415.2 1014.9h2.1v2.1h-2.1zM1404.7 1017h2.1v2.1h-2.1zM1408.9 1017h2.1v2.1h-2.1zM1413.1 1017h2.1v2.1h-2.1zM1415.2 1017h2.1v2.1h-2.1zM1417.3 1017h2.1v2.1h-2.1zM1419.4 1017h2.1v2.1h-2.1zM1404.7 1019.1h2.1v2.1h-2.1zM1411 1019.1h2.1v2.1h-2.1zM1415.2 1019.1h2.1v2.1h-2.1zM1417.3 1019.1h2.1v2.1h-2.1zM1419.4 1019.1h2.1v2.1h-2.1zM1402.6 1021.2h2.1v2.1h-2.1zM1404.7 1021.2h2.1v2.1h-2.1zM1406.8 1021.2h2.1v2.1h-2.1zM1411 1021.2h2.1v2.1h-2.1zM1413.1 1021.2h2.1v2.1h-2.1zM1417.3 1021.2h2.1v2.1h-2.1zM1419.4 1021.2h2.1v2.1h-2.1zM1402.6 1023.3h2.1v2.1h-2.1zM1404.7 1023.3h2.1v2.1h-2.1zM1406.8 1023.3h2.1v2.1h-2.1zM1413.1 1023.3h2.1v2.1h-2.1zM1402.6 1025.4h2.1v2.1h-2.1zM1404.7 1025.4h2.1v2.1h-2.1zM1406.8 1025.4h2.1v2.1h-2.1zM1411 1025.4h2.1v2.1h-2.1zM1415.2 1025.4h2.1v2.1h-2.1zM1417.3 1025.4h2.1v2.1h-2.1z" fill="#222"/><path d="M1404.7 1010.7h2.1v2.1h-2.1z M1417.3 1010.7h2.1v2.1h-2.1z M1404.7 1023.3h2.1v2.1h-2.1z" fill="#f4f4f4"/><text x="1430.5" y="1028" font-family="Liberation Sans, sans-serif" font-size="7.5" font-weight="bold" fill="#222" text-anchor="middle">Ex</text><rect x="1425" y="1014.5" width="12" height="2" fill="#aaa"/><rect x="1403" y="1030" width="31" height="1.3" fill="#888"/></g>
<g><rect x="1598" y="957" width="77" height="124.2" rx="9" fill="url(#cdg)"/><rect x="1600" y="959" width="73" height="120.2" rx="8" fill="#ededed" opacity=".6"/><rect x="1625.6" y="960.2" width="22.2" height="4.8" rx="2.4" fill="#fff" stroke="#d4d4d4" stroke-width=".5"/><text x="1618.4" y="994" font-family="Liberation Sans, sans-serif" font-size="9.5" fill="#777" text-anchor="middle">Ex</text><rect x="1626.5" y="979.5" width="15" height="1.2" fill="#b5b5b5"/><rect x="1626.5" y="982.6" width="29" height="1.2" fill="#b5b5b5"/><rect x="1626.5" y="985.7" width="29" height="1.2" fill="#b5b5b5"/><rect x="1626.5" y="991.8" width="15" height="1.2" fill="#b5b5b5"/><rect x="1626.5" y="994.9" width="32" height="1.2" fill="#b5b5b5"/><rect x="1626.5" y="998" width="29" height="1.2" fill="#b5b5b5"/><circle cx="1637.4" cy="1049.3" r="10.6" fill="#f4f4f4" stroke="#dedede" stroke-width=".8"/><circle cx="1637.4" cy="1049.3" r="6.4" fill="#fbfbfb" stroke="#e2e2e2" stroke-width=".6"/><text x="1637.4" y="1050.7" font-family="Liberation Sans, sans-serif" font-size="3.6" font-weight="bold" fill="#d83a3a" text-anchor="middle">SOS</text><rect x="1663.6" y="1047.8" width="1.5" height="3" rx=".6" fill="#444"/></g>
<path d="M1820.4 963.2h21v3h-21zM1844.4 963.2h18v3h-18zM1868.4 963.2h3v3h-3zM1877.4 963.2h3v3h-3zM1886.4 963.2h6v3h-6zM1895.4 963.2h9v3h-9zM1910.4 963.2h21v3h-21zM1820.4 966.2h3v3h-3zM1838.4 966.2h3v3h-3zM1844.4 966.2h9v3h-9zM1856.4 966.2h12v3h-12zM1877.4 966.2h3v3h-3zM1883.4 966.2h6v3h-6zM1910.4 966.2h3v3h-3zM1928.4 966.2h3v3h-3zM1820.4 969.2h3v3h-3zM1826.4 969.2h9v3h-9zM1838.4 969.2h3v3h-3zM1850.4 969.2h6v3h-6zM1859.4 969.2h12v3h-12zM1877.4 969.2h9v3h-9zM1898.4 969.2h3v3h-3zM1910.4 969.2h3v3h-3zM1916.4 969.2h9v3h-9zM1928.4 969.2h3v3h-3zM1820.4 972.2h3v3h-3zM1826.4 972.2h9v3h-9zM1838.4 972.2h3v3h-3zM1844.4 972.2h3v3h-3zM1859.4 972.2h9v3h-9zM1877.4 972.2h6v3h-6zM1889.4 972.2h9v3h-9zM1904.4 972.2h3v3h-3zM1910.4 972.2h3v3h-3zM1916.4 972.2h9v3h-9zM1928.4 972.2h3v3h-3zM1820.4 975.2h3v3h-3zM1826.4 975.2h9v3h-9zM1838.4 975.2h3v3h-3zM1844.4 975.2h3v3h-3zM1850.4 975.2h9v3h-9zM1862.4 975.2h3v3h-3zM1871.4 975.2h6v3h-6zM1880.4 975.2h6v3h-6zM1892.4 975.2h3v3h-3zM1901.4 975.2h6v3h-6zM1910.4 975.2h3v3h-3zM1916.4 975.2h9v3h-9zM1928.4 975.2h3v3h-3zM1820.4 978.2h3v3h-3zM1838.4 978.2h3v3h-3zM1847.4 978.2h3v3h-3zM1856.4 978.2h3v3h-3zM1874.4 978.2h18v3h-18zM1895.4 978.2h3v3h-3zM1901.4 978.2h6v3h-6zM1910.4 978.2h3v3h-3zM1928.4 978.2h3v3h-3zM1820.4 981.2h21v3h-21zM1844.4 981.2h6v3h-6zM1856.4 981.2h6v3h-6zM1865.4 981.2h3v3h-3zM1874.4 981.2h3v3h-3zM1886.4 981.2h3v3h-3zM1892.4 981.2h6v3h-6zM1901.4 981.2h6v3h-6zM1910.4 981.2h21v3h-21zM1850.4 984.2h3v3h-3zM1856.4 984.2h3v3h-3zM1865.4 984.2h9v3h-9zM1877.4 984.2h3v3h-3zM1886.4 984.2h3v3h-3zM1892.4 984.2h6v3h-6zM1904.4 984.2h3v3h-3zM1820.4 987.2h9v3h-9zM1844.4 987.2h9v3h-9zM1865.4 987.2h9v3h-9zM1880.4 987.2h3v3h-3zM1886.4 987.2h3v3h-3zM1904.4 987.2h3v3h-3zM1910.4 987.2h3v3h-3zM1925.4 987.2h3v3h-3zM1820.4 990.2h3v3h-3zM1829.4 990.2h3v3h-3zM1835.4 990.2h6v3h-6zM1844.4 990.2h12v3h-12zM1862.4 990.2h3v3h-3zM1868.4 990.2h3v3h-3zM1880.4 990.2h3v3h-3zM1886.4 990.2h3v3h-3zM1892.4 990.2h9v3h-9zM1904.4 990.2h3v3h-3zM1910.4 990.2h6v3h-6zM1919.4 990.2h3v3h-3zM1925.4 990.2h3v3h-3zM1832.4 993.2h6v3h-6zM1841.4 993.2h6v3h-6zM1853.4 993.2h21v3h-21zM1886.4 993.2h3v3h-3zM1892.4 993.2h9v3h-9zM1907.4 993.2h12v3h-12zM1925.4 993.2h6v3h-6zM1820.4 996.2h3v3h-3zM1826.4 996.2h3v3h-3zM1838.4 996.2h15v3h-15zM1856.4 996.2h6v3h-6zM1865.4 996.2h3v3h-3zM1871.4 996.2h6v3h-6zM1880.4 996.2h3v3h-3zM1889.4 996.2h9v3h-9zM1901.4 996.2h9v3h-9zM1913.4 996.2h3v3h-3zM1829.4 999.2h3v3h-3zM1844.4 999.2h9v3h-9zM1865.4 999.2h15v3h-15zM1883.4 999.2h6v3h-6zM1895.4 999.2h6v3h-6zM1904.4 999.2h9v3h-9zM1928.4 999.2h3v3h-3zM1820.4 1002.2h6v3h-6zM1835.4 1002.2h3v3h-3zM1847.4 1002.2h15v3h-15zM1865.4 1002.2h12v3h-12zM1880.4 1002.2h6v3h-6zM1889.4 1002.2h3v3h-3zM1895.4 1002.2h18v3h-18zM1916.4 1002.2h3v3h-3zM1925.4 1002.2h6v3h-6zM1820.4 1005.2h3v3h-3zM1829.4 1005.2h3v3h-3zM1847.4 1005.2h12v3h-12zM1892.4 1005.2h9v3h-9zM1907.4 1005.2h3v3h-3zM1913.4 1005.2h3v3h-3zM1922.4 1005.2h3v3h-3zM1823.4 1008.2h3v3h-3zM1832.4 1008.2h15v3h-15zM1853.4 1008.2h3v3h-3zM1889.4 1008.2h3v3h-3zM1895.4 1008.2h3v3h-3zM1904.4 1008.2h3v3h-3zM1910.4 1008.2h6v3h-6zM1919.4 1008.2h6v3h-6zM1928.4 1008.2h3v3h-3zM1820.4 1011.2h3v3h-3zM1826.4 1011.2h3v3h-3zM1835.4 1011.2h6v3h-6zM1844.4 1011.2h3v3h-3zM1850.4 1011.2h3v3h-3zM1889.4 1011.2h3v3h-3zM1895.4 1011.2h3v3h-3zM1901.4 1011.2h15v3h-15zM1922.4 1011.2h9v3h-9zM1829.4 1014.2h18v3h-18zM1850.4 1014.2h3v3h-3zM1892.4 1014.2h3v3h-3zM1898.4 1014.2h6v3h-6zM1907.4 1014.2h6v3h-6zM1916.4 1014.2h3v3h-3zM1922.4 1014.2h3v3h-3zM1823.4 1017.2h3v3h-3zM1829.4 1017.2h6v3h-6zM1841.4 1017.2h3v3h-3zM1856.4 1017.2h6v3h-6zM1895.4 1017.2h3v3h-3zM1916.4 1017.2h3v3h-3zM1820.4 1020.2h9v3h-9zM1835.4 1020.2h6v3h-6zM1850.4 1020.2h12v3h-12zM1892.4 1020.2h6v3h-6zM1901.4 1020.2h3v3h-3zM1910.4 1020.2h3v3h-3zM1919.4 1020.2h12v3h-12zM1826.4 1023.2h3v3h-3zM1832.4 1023.2h3v3h-3zM1844.4 1023.2h9v3h-9zM1856.4 1023.2h6v3h-6zM1889.4 1023.2h3v3h-3zM1898.4 1023.2h3v3h-3zM1904.4 1023.2h3v3h-3zM1913.4 1023.2h6v3h-6zM1925.4 1023.2h3v3h-3zM1823.4 1026.2h6v3h-6zM1832.4 1026.2h3v3h-3zM1838.4 1026.2h6v3h-6zM1850.4 1026.2h3v3h-3zM1856.4 1026.2h3v3h-3zM1889.4 1026.2h6v3h-6zM1901.4 1026.2h6v3h-6zM1910.4 1026.2h3v3h-3zM1919.4 1026.2h9v3h-9zM1823.4 1029.2h3v3h-3zM1829.4 1029.2h3v3h-3zM1841.4 1029.2h3v3h-3zM1853.4 1029.2h9v3h-9zM1889.4 1029.2h6v3h-6zM1898.4 1029.2h3v3h-3zM1916.4 1029.2h6v3h-6zM1820.4 1032.2h6v3h-6zM1838.4 1032.2h6v3h-6zM1850.4 1032.2h3v3h-3zM1859.4 1032.2h3v3h-3zM1895.4 1032.2h3v3h-3zM1901.4 1032.2h15v3h-15zM1925.4 1032.2h6v3h-6zM1820.4 1035.2h3v3h-3zM1829.4 1035.2h6v3h-6zM1838.4 1035.2h12v3h-12zM1859.4 1035.2h3v3h-3zM1868.4 1035.2h3v3h-3zM1880.4 1035.2h3v3h-3zM1886.4 1035.2h3v3h-3zM1892.4 1035.2h3v3h-3zM1901.4 1035.2h3v3h-3zM1820.4 1038.2h6v3h-6zM1832.4 1038.2h6v3h-6zM1841.4 1038.2h6v3h-6zM1862.4 1038.2h3v3h-3zM1868.4 1038.2h3v3h-3zM1877.4 1038.2h6v3h-6zM1886.4 1038.2h3v3h-3zM1907.4 1038.2h3v3h-3zM1913.4 1038.2h3v3h-3zM1919.4 1038.2h3v3h-3zM1826.4 1041.2h9v3h-9zM1844.4 1041.2h6v3h-6zM1856.4 1041.2h9v3h-9zM1868.4 1041.2h9v3h-9zM1880.4 1041.2h6v3h-6zM1895.4 1041.2h3v3h-3zM1901.4 1041.2h15v3h-15zM1919.4 1041.2h9v3h-9zM1823.4 1044.2h3v3h-3zM1835.4 1044.2h12v3h-12zM1850.4 1044.2h3v3h-3zM1862.4 1044.2h3v3h-3zM1868.4 1044.2h6v3h-6zM1877.4 1044.2h3v3h-3zM1883.4 1044.2h6v3h-6zM1892.4 1044.2h6v3h-6zM1901.4 1044.2h3v3h-3zM1907.4 1044.2h12v3h-12zM1922.4 1044.2h6v3h-6zM1820.4 1047.2h12v3h-12zM1841.4 1047.2h3v3h-3zM1847.4 1047.2h9v3h-9zM1859.4 1047.2h3v3h-3zM1871.4 1047.2h3v3h-3zM1877.4 1047.2h9v3h-9zM1889.4 1047.2h3v3h-3zM1895.4 1047.2h6v3h-6zM1904.4 1047.2h15v3h-15zM1925.4 1047.2h3v3h-3zM1844.4 1050.2h18v3h-18zM1865.4 1050.2h6v3h-6zM1874.4 1050.2h3v3h-3zM1880.4 1050.2h6v3h-6zM1901.4 1050.2h6v3h-6zM1916.4 1050.2h3v3h-3zM1928.4 1050.2h3v3h-3zM1820.4 1053.2h21v3h-21zM1865.4 1053.2h3v3h-3zM1874.4 1053.2h6v3h-6zM1883.4 1053.2h9v3h-9zM1898.4 1053.2h9v3h-9zM1910.4 1053.2h3v3h-3zM1916.4 1053.2h9v3h-9zM1820.4 1056.2h3v3h-3zM1838.4 1056.2h3v3h-3zM1844.4 1056.2h9v3h-9zM1856.4 1056.2h9v3h-9zM1868.4 1056.2h3v3h-3zM1874.4 1056.2h6v3h-6zM1883.4 1056.2h24v3h-24zM1916.4 1056.2h3v3h-3zM1925.4 1056.2h3v3h-3zM1820.4 1059.2h3v3h-3zM1826.4 1059.2h9v3h-9zM1838.4 1059.2h3v3h-3zM1844.4 1059.2h9v3h-9zM1865.4 1059.2h3v3h-3zM1871.4 1059.2h3v3h-3zM1880.4 1059.2h48v3h-48zM1820.4 1062.2h3v3h-3zM1826.4 1062.2h9v3h-9zM1838.4 1062.2h3v3h-3zM1862.4 1062.2h30v3h-30zM1895.4 1062.2h3v3h-3zM1907.4 1062.2h6v3h-6zM1922.4 1062.2h3v3h-3zM1820.4 1065.2h3v3h-3zM1826.4 1065.2h9v3h-9zM1838.4 1065.2h3v3h-3zM1844.4 1065.2h15v3h-15zM1862.4 1065.2h15v3h-15zM1886.4 1065.2h6v3h-6zM1895.4 1065.2h3v3h-3zM1910.4 1065.2h3v3h-3zM1916.4 1065.2h6v3h-6zM1928.4 1065.2h3v3h-3zM1820.4 1068.2h3v3h-3zM1838.4 1068.2h3v3h-3zM1856.4 1068.2h15v3h-15zM1874.4 1068.2h12v3h-12zM1889.4 1068.2h3v3h-3zM1901.4 1068.2h6v3h-6zM1910.4 1068.2h9v3h-9zM1928.4 1068.2h3v3h-3zM1820.4 1071.2h21v3h-21zM1847.4 1071.2h3v3h-3zM1853.4 1071.2h3v3h-3zM1859.4 1071.2h3v3h-3zM1868.4 1071.2h9v3h-9zM1889.4 1071.2h6v3h-6zM1904.4 1071.2h3v3h-3zM1913.4 1071.2h3v3h-3zM1919.4 1071.2h3v3h-3zM1925.4 1071.2h6v3h-6z" fill="#000"/>
<rect x="1862.5" y="1005.6" width="27" height="27.5" rx="3" fill="#fff" stroke="#e4e4e4" stroke-width=".6"/>
<path d="M1873 1018 C1870 1012 1876 1008.5 1879 1011.5 C1881 1014 1879 1018 1876 1021.5" stroke="#233a8a" stroke-width="1.6" fill="none"/>
<path d="M1876 1012 C1880 1010 1883 1014 1880 1018 L1877 1022" stroke="#8fc93a" stroke-width="1.4" fill="none"/>
<rect x="1867.5" y="1025.2" width="17" height="2.6" fill="#7aa0c8"/>
<g opacity=".3" style="filter:blur(1.2px)"><path d="M2067.9 965 V951.7 H2208.3 V1048.9 H2198" fill="#fff" stroke="#2b95ee" stroke-width="6" stroke-linejoin="round"/><path d="M2056.2 978 V963.7 H2196.8 V1061 H2187.5" fill="#fff" stroke="#2b95ee" stroke-width="6" stroke-linejoin="round"/><path d="M2044.2 976.6 H2186.3 V1071.4 C2150 1072 2128 1082 2108 1090 C2086 1098 2062 1096.5 2044.2 1090.5 Z" fill="#fff" stroke="#2b95ee" stroke-width="6" stroke-linejoin="round"/></g>
<g><path d="M2067.9 965 V951.7 H2208.3 V1048.9 H2198" fill="#fff" stroke="#2b95ee" stroke-width="3.2" stroke-linejoin="round"/><path d="M2056.2 978 V963.7 H2196.8 V1061 H2187.5" fill="#fff" stroke="#2b95ee" stroke-width="3.2" stroke-linejoin="round"/><path d="M2044.2 976.6 H2186.3 V1071.4 C2150 1072 2128 1082 2108 1090 C2086 1098 2062 1096.5 2044.2 1090.5 Z" fill="#fff" stroke="#2b95ee" stroke-width="3.2" stroke-linejoin="round"/></g>
<g class="cj" fill="#000" stroke="#000" stroke-width="0.9" stroke-linejoin="round" font-size="28.2" letter-spacing="0.4"><text x="2084" y="1036.32">模板</text></g>
</svg>
<div class="t" style="left:38.9px;top:432.35px;width:54px;font-size:54px;line-height:54.7px">数据标准规范</div>
<div class="t" style="left:2291.8px;top:376.75px;width:55px;font-size:55px;line-height:54.9px">安全生产标准规范</div>
<div class="t" style="left:148.2px;top:81.6px;width:42.4px;font-size:42.4px;line-height:45.1px">展现层</div>
<div class="t" style="left:148.2px;top:414.7px;width:42.4px;font-size:42.4px;line-height:45.1px">应用层</div>
<div class="t" style="left:148.2px;top:686.7px;width:42.4px;font-size:42.4px;line-height:45.1px">数据层</div>
<div class="t" style="left:148.2px;top:908.9px;width:42.4px;font-size:42.4px;line-height:45.1px">基础层</div>
<div class="t" style="left:1030.75px;top:90.55px;font-size:51.5px;line-height:51.5px;letter-spacing:3.7px;white-space:nowrap">监管中心</div>
<div class="t" style="left:238.25px;top:338.2px;font-size:29.6px;line-height:29.6px;letter-spacing:2.6px;white-space:nowrap">安全生产风险监测预警</div>
<div class="t" style="left:368.25px;top:390.2px;font-size:29.6px;line-height:29.6px;letter-spacing:2.6px;white-space:nowrap">系统</div>
<div class="t" style="left:654.5px;top:335.2px;font-size:29.6px;line-height:29.6px;letter-spacing:2.6px;white-space:nowrap">安全生产双重预防机制</div>
<div class="t" style="left:735.25px;top:387.2px;font-size:29.6px;line-height:29.6px;letter-spacing:2.6px;white-space:nowrap">信息化系统</div>
<div class="t" style="left:1074px;top:338.2px;font-size:29.6px;line-height:29.6px;letter-spacing:2.6px;white-space:nowrap">特殊作业全过程信息化</div>
<div class="t" style="left:1090.75px;top:390.2px;font-size:29.6px;line-height:29.6px;letter-spacing:2.6px;white-space:nowrap">管理和视频监控系统</div>
<div class="t" style="left:1523.25px;top:338.2px;font-size:29.6px;line-height:29.6px;letter-spacing:2.6px;white-space:nowrap">智能视频监控系统</div>
<div class="t" style="left:1908.25px;top:338.2px;font-size:29.6px;line-height:29.6px;letter-spacing:2.6px;white-space:nowrap">企业安全生产全要素管</div>
<div class="t" style="left:2020.75px;top:390.2px;font-size:29.6px;line-height:29.6px;letter-spacing:2.6px;white-space:nowrap">理系统</div>
<div class="t" style="left:302px;top:513.5px;width:27.8px;font-size:27.8px;line-height:29.8px">静态数据</div>
<div class="t" style="left:374px;top:513.5px;width:27.8px;font-size:27.8px;line-height:29.8px">实时数据</div>
<div class="t" style="left:446px;top:513.5px;width:27.8px;font-size:27.8px;line-height:29.8px">视频数据</div>
<div class="t" style="left:518px;top:513.5px;width:27.8px;font-size:27.8px;line-height:29.8px">检测数据</div>
<div class="t" style="left:591.05px;top:502.4px;width:26.2px;font-size:26.2px;line-height:28px">危险源管理</div>
<div class="t" style="left:665.3px;top:505.35px;width:21.7px;font-size:21.7px;line-height:22.6px">风险分级管理</div>
<div class="t" style="left:734.25px;top:513.5px;width:27.8px;font-size:27.8px;line-height:29.8px">隐患管理</div>
<div class="t" style="left:806px;top:528px;width:27.8px;font-size:27.8px;line-height:29.8px">风险库</div>
<div class="t" style="left:882.5px;top:528px;width:27.8px;font-size:27.8px;line-height:29.8px">隐患库</div>
<div class="t" style="left:958.2px;top:499.35px;width:22.6px;font-size:22.6px;line-height:24.9px">风险辨识管理</div>
<div class="t" style="left:1029.8px;top:502.4px;width:26.2px;font-size:26.2px;line-height:28px">目标及责任</div>
<div class="t" style="left:1104.35px;top:499.35px;width:22.6px;font-size:22.6px;line-height:24.9px">特殊作业管理</div>
<div class="t" style="left:1175.75px;top:513.5px;width:27.8px;font-size:27.8px;line-height:29.8px">巡检管理</div>
<div class="t" style="left:1249.75px;top:513.5px;width:27.8px;font-size:27.8px;line-height:29.8px">应急管理</div>
<div class="t" style="left:1323.75px;top:513.5px;width:27.8px;font-size:27.8px;line-height:29.8px">事故管理</div>
<div class="t" style="left:1397.75px;top:513.5px;width:27.8px;font-size:27.8px;line-height:29.8px">变更管理</div>
<div class="t" style="left:1471.75px;top:513.5px;width:27.8px;font-size:27.8px;line-height:29.8px">培训教育</div>
<div class="t" style="left:1545.75px;top:513.5px;width:27.8px;font-size:27.8px;line-height:29.8px">考核管理</div>
<div class="t" style="left:1619.75px;top:513.5px;width:27.8px;font-size:27.8px;line-height:29.8px">在岗管理</div>
<div class="t" style="left:1693.75px;top:513.5px;width:27.8px;font-size:27.8px;line-height:29.8px">在位管理</div>
<div class="t" style="left:1767.75px;top:513.5px;width:27.8px;font-size:27.8px;line-height:29.8px">身份验证</div>
<div class="t" style="left:1841.75px;top:513.5px;width:27.8px;font-size:27.8px;line-height:29.8px">设备管理</div>
<div class="t" style="left:1915.75px;top:513.5px;width:27.8px;font-size:27.8px;line-height:29.8px">特种设备</div>
<div class="t" style="left:1989.75px;top:543.3px;width:27.8px;font-size:27.8px;line-height:29.8px">法律</div>
<div class="t" style="left:2063.75px;top:543.3px;width:27.8px;font-size:27.8px;line-height:29.8px">制度</div>
<div class="t" style="left:2137.75px;top:543.3px;width:27.8px;font-size:27.8px;line-height:29.8px">标准</div>
<div class="t" style="left:417.5px;top:698.8px;font-size:46.4px;line-height:46.4px;letter-spacing:3.5px;white-space:nowrap">数据采集</div>
<div class="t" style="left:861.9px;top:698.8px;font-size:46.4px;line-height:46.4px;letter-spacing:3.5px;white-space:nowrap">数据储存</div>
<div class="t" style="left:1306.9px;top:698.8px;font-size:46.4px;line-height:46.4px;letter-spacing:3.5px;white-space:nowrap">数据集成</div>
<div class="t" style="left:1751.9px;top:698.8px;font-size:46.4px;line-height:46.4px;letter-spacing:3.5px;white-space:nowrap">数据服务</div>
<div class="t" style="left:2084px;top:1011.5px;font-size:28.2px;line-height:28.2px;letter-spacing:0.4px;white-space:nowrap">模板</div>
</body></html>
